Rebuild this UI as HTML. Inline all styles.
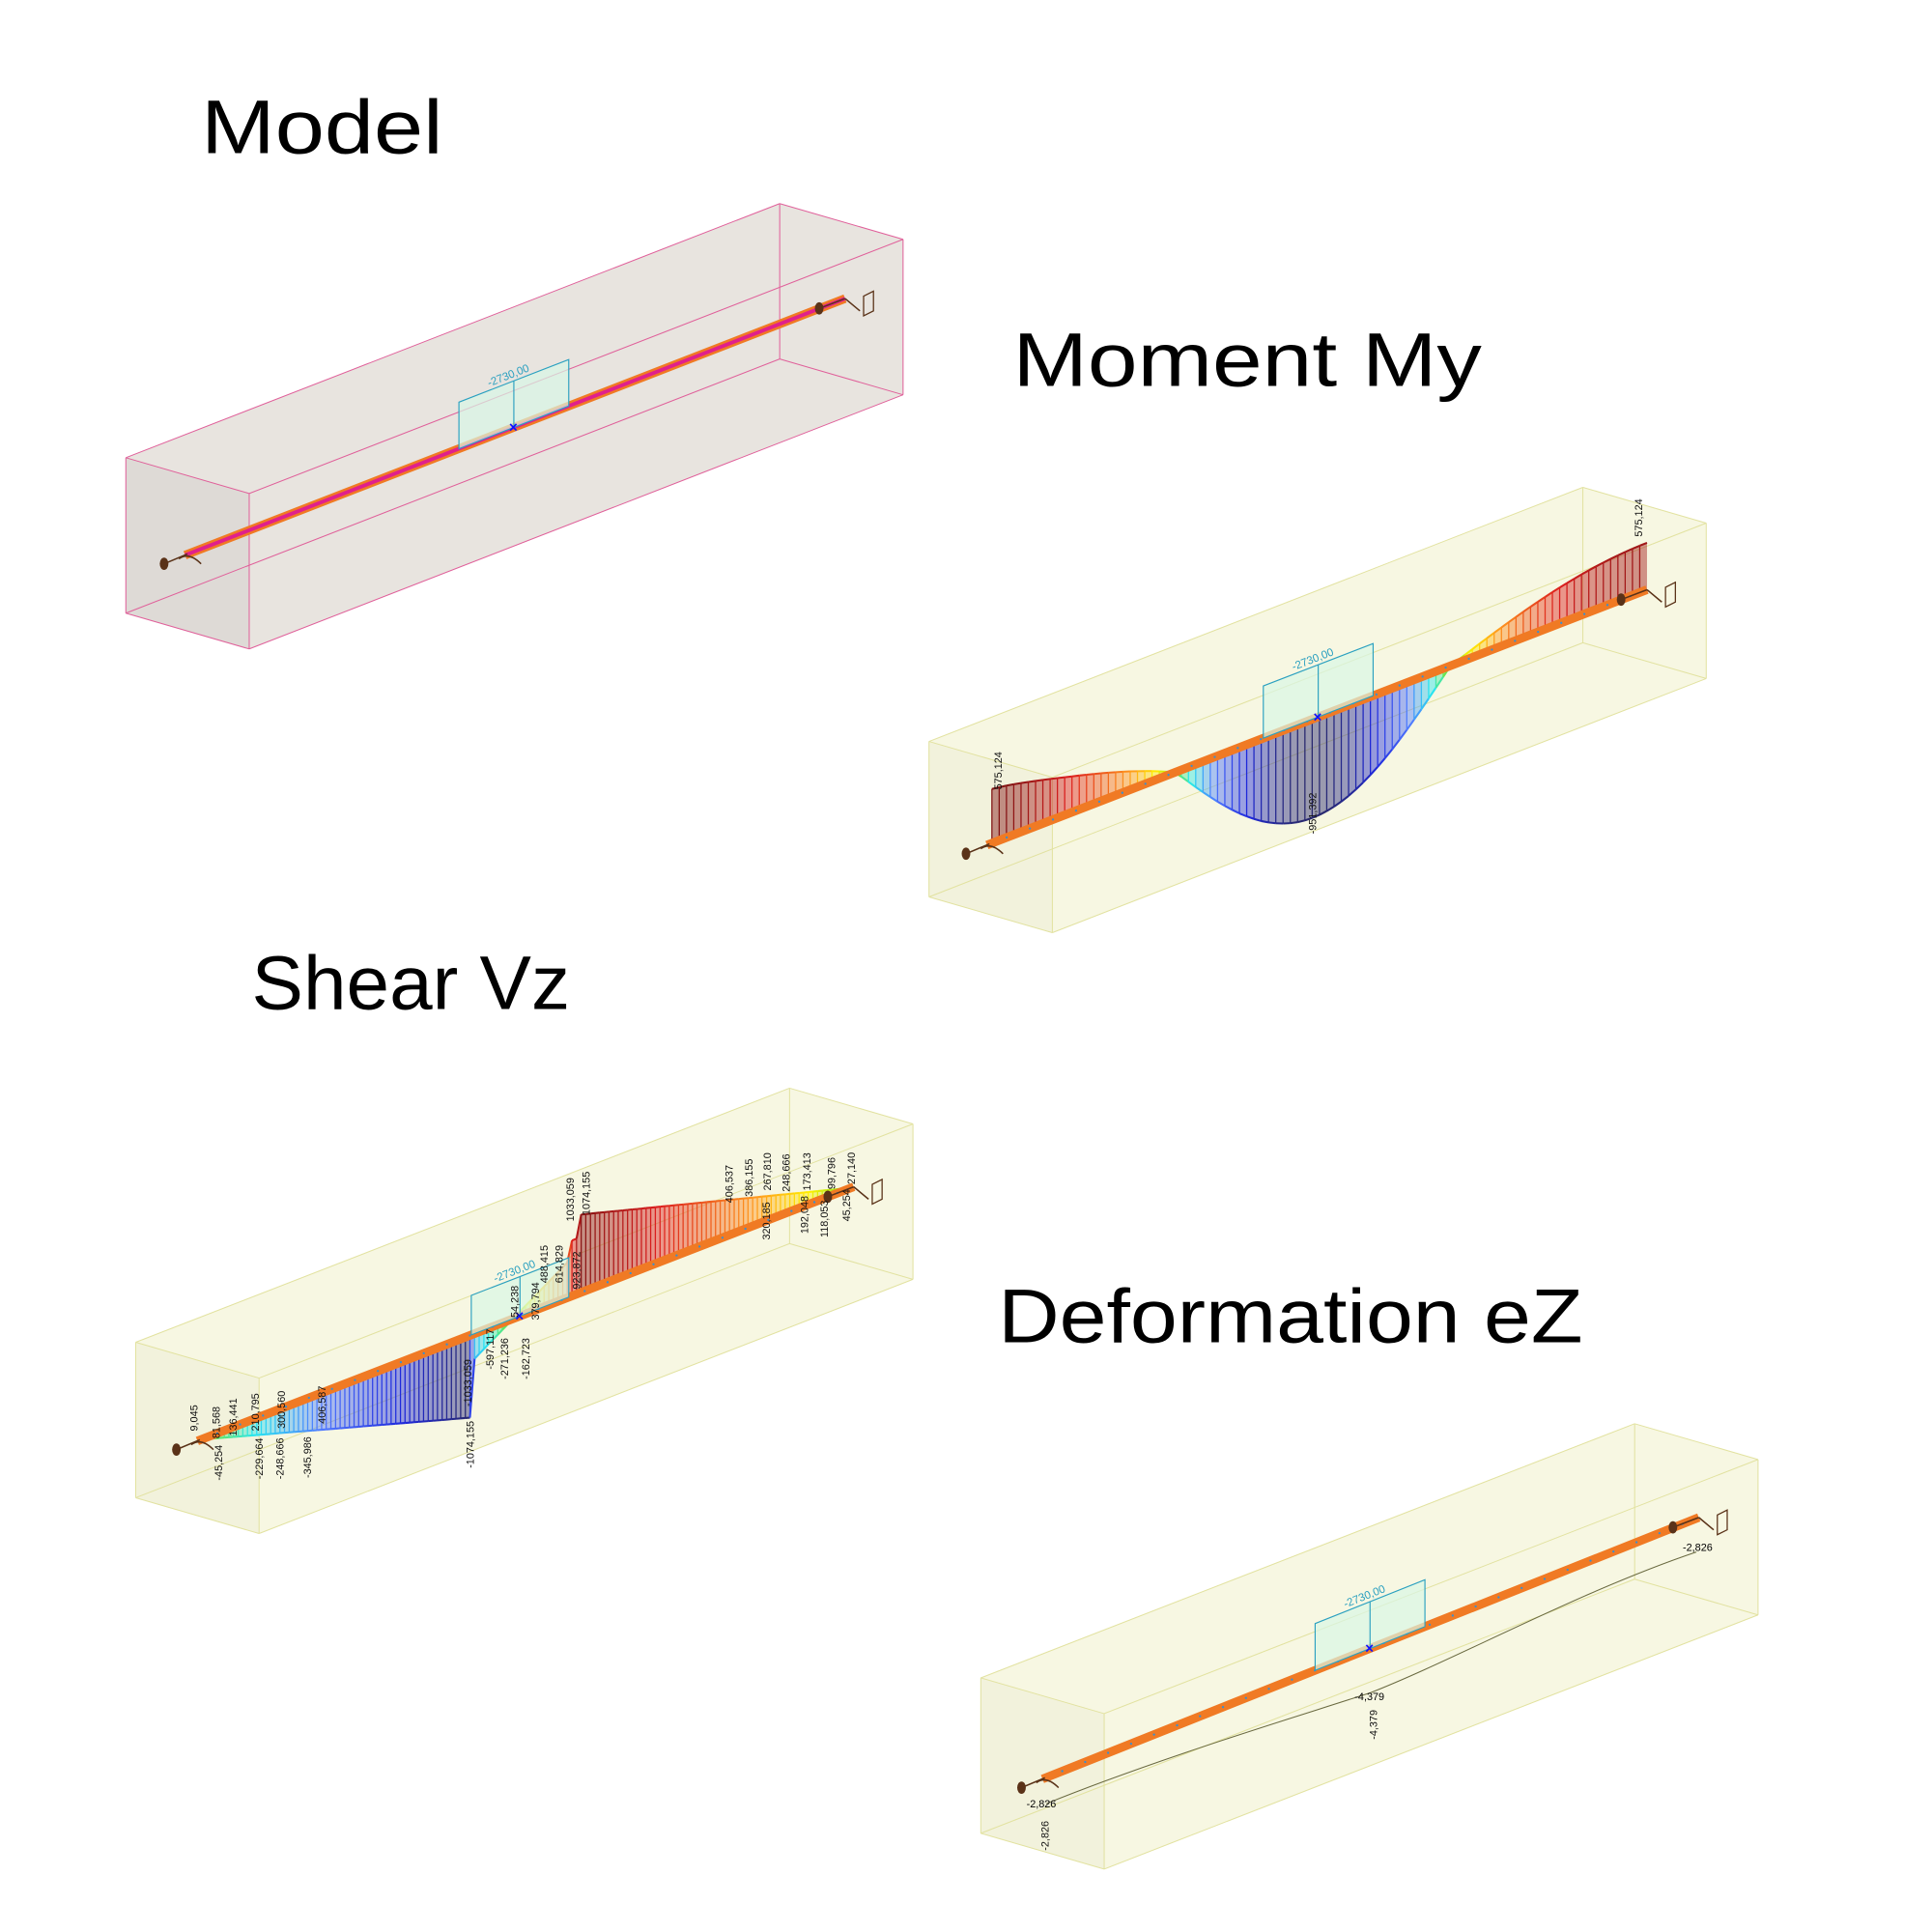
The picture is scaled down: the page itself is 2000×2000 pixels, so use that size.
<!DOCTYPE html>
<html><head><meta charset="utf-8"><style>
html,body{margin:0;padding:0;background:#fff;width:2000px;height:2000px;overflow:hidden}
svg{display:block}
text{font-family:"Liberation Sans",Arial,sans-serif}
</style></head><body>
<svg id="s" width="2000" height="2000" viewBox="0 0 1566 1566" xmlns="http://www.w3.org/2000/svg">
<text x="163" y="124" font-size="62" textLength="196" lengthAdjust="spacingAndGlyphs">Model</text>
<text x="821" y="313" font-size="62" textLength="380" lengthAdjust="spacingAndGlyphs">Moment My</text>
<text x="204" y="818" font-size="62" textLength="258" lengthAdjust="spacingAndGlyphs">Shear Vz</text>
<text x="809" y="1088" font-size="62" textLength="474" lengthAdjust="spacingAndGlyphs">Deformation eZ</text>
<g id="g"></g>
</svg>
<script>
var out='';
var R=[530,-206],D=[100,29],H=[0,126];
function P(a){return a.map(function(p){return p[0].toFixed(1)+','+p[1].toFixed(1)}).join(' ')}
function add(p,q){return [p[0]+q[0],p[1]+q[1]]}
function box(x,y,fill,face,stroke){
 var A=[x,y],B=add(A,R),C=add(B,D),Dd=add(A,D);
 var Ah=add(A,H),Bh=add(B,H),Ch=add(C,H),Dh=add(Dd,H);
 out+='<polygon points="'+P([A,B,C,Ch,Dh,Ah])+'" fill="'+fill+'"/>';
 out+='<polygon points="'+P([A,Dd,Dh,Ah])+'" fill="'+face+'"/>';
 var E=[[A,B],[B,C],[C,Dd],[Dd,A],[Ah,Bh],[Bh,Ch],[Ch,Dh],[Dh,Ah],[A,Ah],[B,Bh],[C,Ch],[Dd,Dh]];
 E.forEach(function(e){out+='<line x1="'+e[0][0]+'" y1="'+e[0][1]+'" x2="'+e[1][0]+'" y2="'+e[1][1]+'" stroke="'+stroke+'" stroke-width="0.8"/>';});
}
function beam(x0,y0,x1,y1,model){
 out+='<line x1="'+x0+'" y1="'+y0+'" x2="'+x1+'" y2="'+y1+'" stroke="#f07a24" stroke-width="7"/>';
 if(model) out+='<line x1="'+x0+'" y1="'+y0+'" x2="'+x1+'" y2="'+y1+'" stroke="#e0208c" stroke-width="3"/>';
 else{for(var t=0.03;t<1;t+=0.035){var x=x0+(x1-x0)*t,y=y0+(y1-y0)*t;out+='<circle cx="'+x.toFixed(1)+'" cy="'+y.toFixed(1)+'" r="0.9" fill="#3a8fd0"/>';}}
 out+='<ellipse cx="'+(x0-17)+'" cy="'+(y0+7)+'" rx="3.5" ry="5" fill="#5a3218"/>';
 out+='<path d="M'+(x0-17)+' '+(y0+7)+' L'+(x0+2)+' '+(y0-1)+' M'+(x0-5)+' '+(y0+3)+' q8 -6 18 4" stroke="#5a3218" fill="none" stroke-width="1.2"/>';
 out+='<ellipse cx="'+(x1-21)+'" cy="'+(y1+8)+'" rx="3.5" ry="5" fill="#5a3218"/>';
 out+='<path d="M'+(x1-21)+' '+(y1+8)+' L'+(x1)+' '+(y1)+' M'+(x1)+' '+(y1)+' l12 10" stroke="#5a3218" fill="none" stroke-width="1.2"/>';
 out+='<polygon points="'+P([[x1+15,y1-2],[x1+23,y1-6],[x1+23,y1+10],[x1+15,y1+14]])+'" fill="none" stroke="#5a3218" stroke-width="1"/>';
}
function load(xa,xb,ytopA,x0,y0,x1,y1){
 var s=(y1-y0)/(x1-x0),yb=function(x){return y0+s*(x-x0)};
 var ya=ytopA,ybt=ytopA+s*(xb-xa);
 out+='<polygon points="'+P([[xa,ya],[xb,ybt],[xb,yb(xb)],[xa,yb(xa)]])+'" fill="#d8f6e6" fill-opacity="0.7" stroke="#2aa0c0" stroke-width="0.9"/>';
 var xm=(xa+xb)/2;out+='<line x1="'+xm+'" y1="'+(ya+s*(xm-xa))+'" x2="'+xm+'" y2="'+yb(xm)+'" stroke="#2aa0c0" stroke-width="0.9"/>';
 var ang=Math.atan(s)*180/Math.PI;
 out+='<text x="'+(xm-20)+'" y="'+(ya+s*(xm-20-xa)-3)+'" font-size="9" fill="#2aa0c0" transform="rotate('+ang+' '+(xm-20)+' '+(ya+s*(xm-20-xa)-3)+')">-2730,00</text>';
 out+='<text x="'+(xm-4)+'" y="'+(yb(xm)+4)+'" font-size="12" font-weight="bold" fill="#1010ff">×</text>';
}
function col(v){
 var st=[[-1,[40,40,110]],[-0.75,[30,40,220]],[-0.45,[80,120,255]],[-0.2,[40,230,240]],[0,[120,230,40]],[0.15,[255,240,0]],[0.35,[255,150,30]],[0.7,[220,30,30]],[1,[130,20,20]]];
 if(v<-1)v=-1;
 for(var i=0;i<st.length-1;i++){if(v<=st[i+1][0]){var t=(v-st[i][0])/(st[i+1][0]-st[i][0]);var c=st[i][1].map(function(a,k){return Math.round(a+(st[i+1][1][k]-a)*t)});return 'rgb('+c+')';}}
 return 'rgb(130,20,20)';
}
function diagram(x0,y0,x1,y1,xs,xe,hf,hneg,hpos,n){
 var s=(y1-y0)/(x1-x0),yb=function(x){return y0+s*(x-x0)};
 var pts=[],fill='';
 for(var i=0;i<=n;i++){var x=xs+(xe-xs)*i/n;var h=hf(x);pts.push([x,yb(x)-h,h]);}
 for(var i=0;i<n;i++){var a=pts[i],b=pts[i+1];var hv=(a[2]+b[2])/2;var c=col(hv<0?hv/hneg:hv/hpos);
  fill+='<polygon points="'+P([[a[0],a[1]],[b[0],b[1]],[b[0],yb(b[0])],[a[0],yb(a[0])]])+'" fill="'+c+'" fill-opacity="0.45"/>';
  fill+='<line x1="'+a[0].toFixed(1)+'" y1="'+a[1].toFixed(1)+'" x2="'+a[0].toFixed(1)+'" y2="'+yb(a[0]).toFixed(1)+'" stroke="'+c+'" stroke-width="1"/>';
  fill+='<line x1="'+a[0].toFixed(1)+'" y1="'+a[1].toFixed(1)+'" x2="'+b[0].toFixed(1)+'" y2="'+b[1].toFixed(1)+'" stroke="'+c+'" stroke-width="1.6"/>';}
 out+=fill;
}
function vt(x,y,t,fs){fs=fs||8.5;out+='<text x="'+x+'" y="'+y+'" font-size="'+fs+'" transform="rotate(-90 '+x+' '+y+')" fill="#111">'+t+'</text>';}

/* Model */
box(102,371,"#e8e4df","#dedad6","#e0609a");
beam(150,450,685,242,true);
load(372,461,326,150,450,685,242);

/* Moment */
box(753,601,"#f7f7e2","#f2f2dc","#e2e2a0");
(function(){var x0=800,y0=685,x1=1335,y1=478;
 diagram(x0,y0,x1,y1,804,1335,function(x){var t=(x-804)/531;
  if(t<0.28){return 44*Math.cos(t/0.28*Math.PI/2)*(1-0.15*Math.sin(t/0.28*Math.PI));}
  if(t<0.70){return -80*Math.sin((t-0.28)/0.42*Math.PI);}
  return 38*Math.sin((t-0.70)/0.30*Math.PI/2);},80,42,90);
 beam(x0,y0,x1,y1,false);
 load(1024,1113,556,x0,y0,x1,y1);
 vt(812,640,"575,124");vt(1331,435,"575,124");vt(1067,676,"-951,392");
})();

/* Shear */
box(110,1088,"#f7f7e2","#f2f2dc","#e2e2a0");
(function(){var x0=160,y0=1168,x1=692,y1=962;
 diagram(x0,y0,x1,y1,163,689,function(x){
  if(x<382) return -67*(x-163)/219;
  if(x<462) return -22+52*(x-382)/80;
  if(x<468) return 45;
  return 64*(690-x)/222;},67,64,140);
 beam(x0,y0,x1,y1,false);
 load(382,461,1050,x0,y0,x1,y1);
 var L=[[160,1160,"9,045"],[178,1166,"81,568"],[192,1164,"136,441"],[210,1160,"210,795"],[231,1158,"300,560"],[264,1154,"406,587"],[180,1200,"-45,254"],[213,1199,"-229,664"],[230,1199,"-248,666"],[252,1198,"-345,986"],[384,1190,"-1074,155"],[382,1140,"-1033,059"],[400,1110,"-597,117"],[412,1118,"-271,236"],[429,1118,"-162,723"],[420,1068,"54,238"],[437,1070,"379,794"],[444,1040,"488,415"],[456,1040,"614,829"],[470,1045,"923,872"],[465,990,"1033,059"],[478,985,"1074,155"],[594,975,"406,537"],[610,970,"386,155"],[624,1005,"320,185"],[625,965,"267,810"],[640,966,"248,666"],[655,1000,"192,048"],[657,965,"173,413"],[671,1003,"118,053"],[677,964,"99,796"],[689,990,"45,254"],[693,960,"27,140"]];
 L.forEach(function(l){vt(l[0],l[1],l[2],8.5)});
})();

/* Deformation */
box(795,1360,"#f7f7e2","#f2f2dc","#e2e2a0");
(function(){var x0=845,y0=1442,x1=1377,y1=1230;
 beam(x0,y0,x1,y1,false);
 load(1066,1155,1316,x0,y0,x1,y1);
 out+='<path d="M848,1462 C940,1425 1040,1395 1111,1372 C1180,1345 1280,1290 1375,1258" stroke="#6a6a40" fill="none" stroke-width="0.8"/>';
 out+='<text x="832" y="1465" font-size="8.5">-2,826</text>';
 vt(850,1500,"-2,826");
 out+='<text x="1098" y="1378" font-size="8.5">-4,379</text>';
 vt(1116,1410,"-4,379");
 out+='<text x="1364" y="1257" font-size="8.5">-2,826</text>';
})();
document.getElementById('g').innerHTML=out;
</script>
</body></html>
